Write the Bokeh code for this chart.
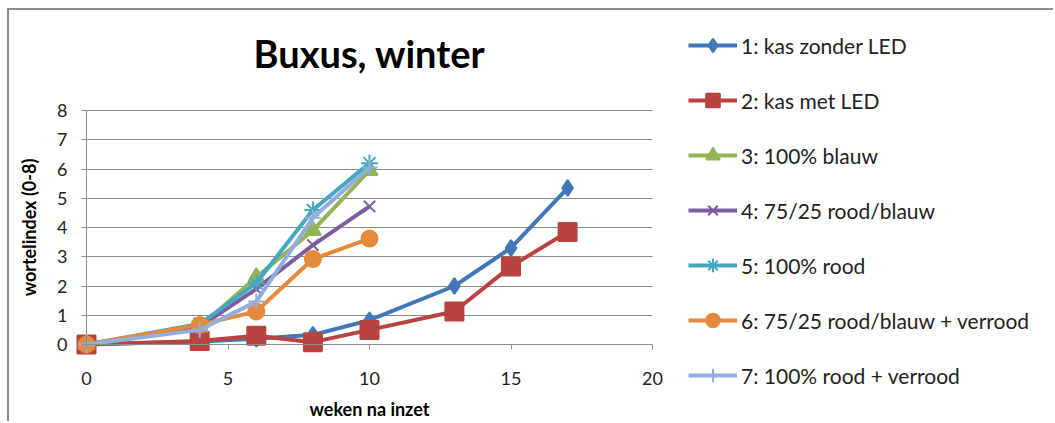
from bokeh.plotting import figure
from bokeh.models import Legend, LegendItem, FixedTicker, Range1d, Label
from bokeh.embed import file_html
from bokeh.resources import INLINE

# ---- data ----
weeks_long = [0, 4, 6, 8, 10, 13, 15, 17]
weeks_short = [0, 4, 6, 8, 10]

s1 = [0, 0.10, 0.20, 0.33, 0.83, 2.00, 3.30, 5.35]
s2 = [0, 0.12, 0.30, 0.08, 0.50, 1.13, 2.67, 3.85]
s3 = [0, 0.60, 2.30, 3.90, 5.95]
s4 = [0, 0.60, 1.90, 3.40, 4.72]
s5 = [0, 0.70, 2.10, 4.60, 6.20]
s6 = [0, 0.67, 1.13, 2.92, 3.62]
s7 = [0, 0.50, 1.47, 4.33, 6.05]

names = ["1: kas zonder LED", "2: kas met LED", "3: 100% blauw",
         "4: 75/25 rood/blauw", "5: 100% rood",
         "6: 75/25 rood/blauw + verrood", "7: 100% rood + verrood"]
x_ticks = [0, 5, 10, 15, 20]
y_ticks = [0, 1, 2, 3, 4, 5, 6, 7, 8]
title_text = "Buxus, winter"
x_label = "weken na inzet"
y_label = "wortelindex (0-8)"

colors = ["#4177B8", "#B8433F", "#93B555", "#7C5EA0", "#45A7C2", "#E58A3C", "#93AEDA"]
markers = ["diamond", "square", "triangle", "x", "asterisk", "circle", "cross"]
msizes = [16, 18, 16, 16, 17, 16, 16]

FONT = "Lato"
GRID = "#8C8C8C"

xs_all = [weeks_long, weeks_long, weeks_short, weeks_short, weeks_short, weeks_short, weeks_short]
ys_all = [s1, s2, s3, s4, s5, s6, s7]

# ---- layout (pixels) ----
W, H = 1046, 413
PX_X = 566 / 20.0        # pixels per week in the plotting area
PX_Y = 234 / 8.0         # pixels per index unit
AXIS_FROM_LEFT = 77      # y-axis line distance from figure left
AXIS_FROM_BOTTOM = 79    # x-axis line distance above figure bottom
x_start = -AXIS_FROM_LEFT / PX_X
x_end = x_start + W / PX_X
y_start = -AXIS_FROM_BOTTOM / PX_Y
y_end = y_start + H / PX_Y

p = figure(width=W, height=H, output_backend="svg", toolbar_location=None,
           x_range=Range1d(x_start, x_end), y_range=Range1d(y_start, y_end),
           min_border_left=0, min_border_right=0, min_border_top=0,
           min_border_bottom=0)
p.styles = {"margin-left": "7px", "margin-top": "8px",
            "border-left": "2px solid #8C8C8C", "border-top": "2px solid #8C8C8C"}
p.outline_line_color = None
p.background_fill_color = "white"
p.border_fill_color = "white"

p.xgrid.grid_line_color = None
p.ygrid.grid_line_color = GRID
p.ygrid.grid_line_width = 1
if "cross_bounds" in p.ygrid[0].properties():
    p.ygrid[0].cross_bounds = (0, 20)

p.xaxis.ticker = FixedTicker(ticks=x_ticks)
p.yaxis.ticker = FixedTicker(ticks=y_ticks)
p.xaxis.bounds = (0, 20)
p.yaxis.bounds = (0, 8)
p.xaxis.fixed_location = 0
p.yaxis.fixed_location = 0
for ax in (p.xaxis[0], p.yaxis[0]):
    ax.axis_line_color = GRID
    ax.major_tick_line_color = GRID
    ax.major_tick_out = 5
    ax.major_tick_in = 0
    ax.minor_tick_line_color = None
    ax.major_label_text_font = FONT
    ax.major_label_text_font_size = "18px"
    ax.major_label_text_color = "#222222"
    ax.axis_label_text_font = FONT
    ax.axis_label_text_font_style = "bold"
    ax.axis_label_text_font_size = "18px"
    ax.axis_label_text_color = "#000000"
p.xaxis.axis_label = x_label
p.yaxis.axis_label = y_label
p.xaxis.major_label_standoff = 22
p.xaxis.axis_label_standoff = 10
p.yaxis.major_label_standoff = 14
p.yaxis.axis_label_standoff = 14

items = []
for i in range(7):
    ln = p.line(xs_all[i], ys_all[i], line_color=colors[i], line_width=4)
    sc = p.scatter(xs_all[i], ys_all[i], marker=markers[i], size=msizes[i],
                   fill_color=colors[i], line_color=colors[i], line_width=2)
    items.append(LegendItem(label=names[i], renderers=[ln, sc]))

legend = Legend(items=items, location=(679, 31), orientation="vertical",
                glyph_width=49, glyph_height=34, label_height=34,
                spacing=21, padding=0, margin=0, label_standoff=4,
                label_text_font=FONT, label_text_font_size="21px",
                label_text_color="#222222",
                border_line_color=None, background_fill_alpha=0)
p.add_layout(legend, "center")

title = Label(x=10, y=9.95, text=title_text, text_align="center",
              text_baseline="middle", text_font=FONT, text_font_style="bold",
              text_font_size="38px", text_color="#000000")
p.add_layout(title)

open("out.html", "w").write(file_html(p, INLINE))
